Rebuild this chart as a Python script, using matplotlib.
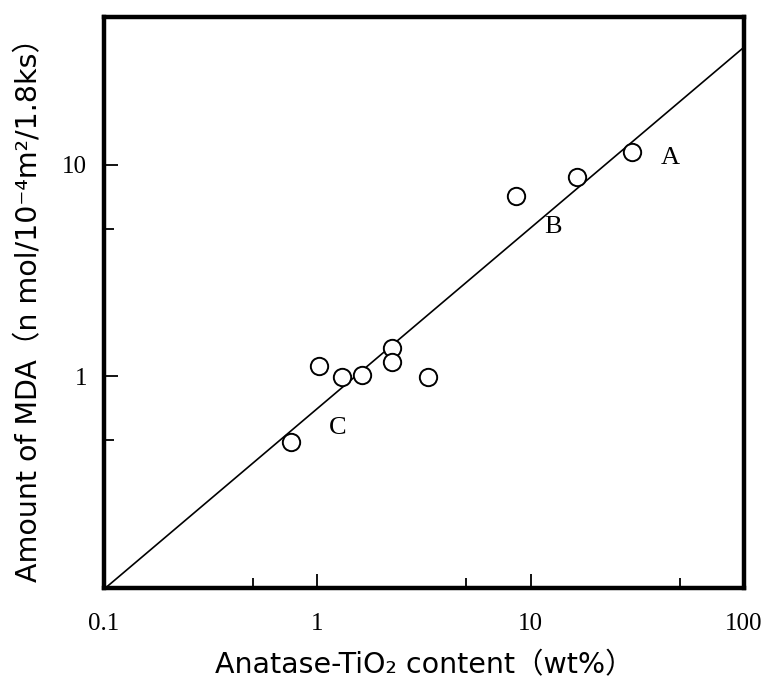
import matplotlib
matplotlib.use("Agg")
import matplotlib.pyplot as plt
from matplotlib.ticker import FixedLocator, FixedFormatter, NullFormatter

# Data
tio2_wt = [0.75, 1.02, 1.31, 1.62, 2.24, 2.24, 3.3, 8.5, 16.5, 30.0]
mda = [0.49, 1.12, 0.99, 1.02, 1.36, 1.17, 0.99, 7.1, 8.8, 11.5]

fit_x = [0.1, 100.0]
fit_y = [0.0987, 36.0]

point_labels = ["A", "B", "C"]
label_x = [45.0, 12.7, 1.25]
label_y = [10.8, 5.1, 0.57]

x_major = [0.1, 1, 10, 100]
x_major_labels = ["0.1", "1", "10", "100"]
x_minor = [0.5, 5, 50]
y_major = [1, 10]
y_major_labels = ["1", "10"]
y_minor = [0.5, 5]

fig = plt.figure(figsize=(7.62, 6.81), dpi=100)
ax = fig.add_axes([104/762, 1 - 588/681, 640/762, 571/681])

ax.plot(fit_x, fit_y, color="black", lw=1.2, zorder=2)
ax.plot(tio2_wt, mda, linestyle="none", marker="o", markersize=12.5,
        markerfacecolor="white", markeredgecolor="black", markeredgewidth=1.4,
        zorder=3)

ax.set_xscale("log")
ax.set_yscale("log")
ax.set_xlim(0.1, 100)
ax.set_ylim(0.1, 50)

ax.xaxis.set_major_locator(FixedLocator(x_major))
ax.xaxis.set_major_formatter(FixedFormatter(x_major_labels))
ax.xaxis.set_minor_locator(FixedLocator(x_minor))
ax.xaxis.set_minor_formatter(NullFormatter())
ax.yaxis.set_major_locator(FixedLocator(y_major))
ax.yaxis.set_major_formatter(FixedFormatter(y_major_labels))
ax.yaxis.set_minor_locator(FixedLocator(y_minor))
ax.yaxis.set_minor_formatter(NullFormatter())

serif = ["Liberation Serif", "DejaVu Serif"]
ax.tick_params(which="both", direction="in", width=1.3, top=False, right=False,
               labelsize=18, labelfontfamily="Liberation Serif")
ax.tick_params(which="major", length=10)
ax.tick_params(which="minor", length=7)
ax.tick_params(axis="x", which="major", pad=18)
ax.tick_params(axis="y", which="major", pad=12)

for s in ax.spines.values():
    s.set_linewidth(3.2)

for t, xx, yy in zip(point_labels, label_x, label_y):
    ax.text(xx, yy, t, family=serif, fontsize=19, ha="center", va="center")

sans = ["DejaVu Sans", "Noto Sans CJK JP"]
ax.set_xlabel("Anatase-TiO₂ content（wt%）", family=sans, fontsize=20.5, labelpad=12)
ax.set_ylabel("Amount of MDA（n mol/10⁻⁴m²/1.8ks）", family=sans, fontsize=20.5, labelpad=14)

fig.savefig("out.png", dpi=100)
